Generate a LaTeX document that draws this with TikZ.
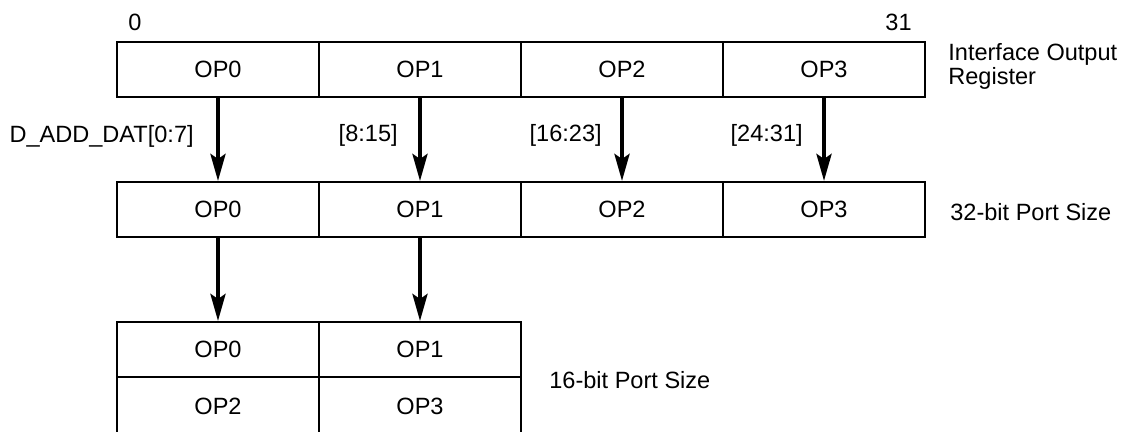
\documentclass[tikz,border=0pt]{standalone}
\usepackage{fontspec}
\setmainfont{Liberation Sans}
\usetikzlibrary{arrows.meta}
\newcommand{\diagfont}{\fontsize{13.4pt}{12pt}\selectfont}

\begin{document}
\begin{tikzpicture}[
    font=\diagfont,
    cell/.style={draw, line width=0.04cm, minimum width=4.04cm, minimum height=1.1cm, inner sep=0pt},
    bus/.style={line width=0.08cm, -{Stealth[length=0.54cm, width=0.3cm, inset=0.1cm]}},
    lbl/.style={inner sep=0pt}
]
    \useasboundingbox (0,0) rectangle (22.58,8.64);

    % 接口输出寄存器
    \node[cell] (reg0) at (4.36,7.25) {OP0};
    \node[cell] (reg1) at (8.40,7.25) {OP1};
    \node[cell] (reg2) at (12.44,7.25) {OP2};
    \node[cell] (reg3) at (16.48,7.25) {OP3};

    % 32 位端口
    \node[cell] (p32a) at (4.36,4.45) {OP0};
    \node[cell] (p32b) at (8.40,4.45) {OP1};
    \node[cell] (p32c) at (12.44,4.45) {OP2};
    \node[cell] (p32d) at (16.48,4.45) {OP3};

    % 16 位端口
    \node[cell] (p16a) at (4.36,1.65) {OP0};
    \node[cell] (p16b) at (8.40,1.65) {OP1};
    \node[cell, minimum height=1.16cm] (p16c) at (4.36,0.52) {OP2};
    \node[cell, minimum height=1.16cm] (p16d) at (8.40,0.52) {OP3};

    % 箭头
    \draw[bus] (reg0) -- (p32a);
    \draw[bus] (reg1) -- (p32b);
    \draw[bus] (reg2) -- (p32c);
    \draw[bus] (reg3) -- (p32d);
    \draw[bus] (p32a) -- (p16a);
    \draw[bus] (p32b) -- (p16b);

    % 位号与数据线标签
    \node[lbl, anchor=west] (lo) at (2.56,8.2) {0};
    \node[lbl, anchor=east] (hi) at (18.24,8.2) {31};
    \node[lbl, anchor=east] (bus0) at (3.88,5.92) {D\_ADD\_DAT[0:7]};
    \node[lbl, anchor=east] (bus1) at (7.96,5.94) {[8:15]};
    \node[lbl, anchor=east] (bus2) at (12.04,5.94) {[16:23]};
    \node[lbl, anchor=east] (bus3) at (16.06,5.94) {[24:31]};

    % 右侧说明
    \node[lbl, anchor=north west, align=left] (regname) at (18.96,7.77) {Interface Output\\Register};
    \node[lbl, anchor=west] (name32) at (19.0,4.40) {32-bit Port Size};
    \node[lbl, anchor=west] (name16) at (10.98,1.04) {16-bit Port Size};
\end{tikzpicture}
\end{document}
